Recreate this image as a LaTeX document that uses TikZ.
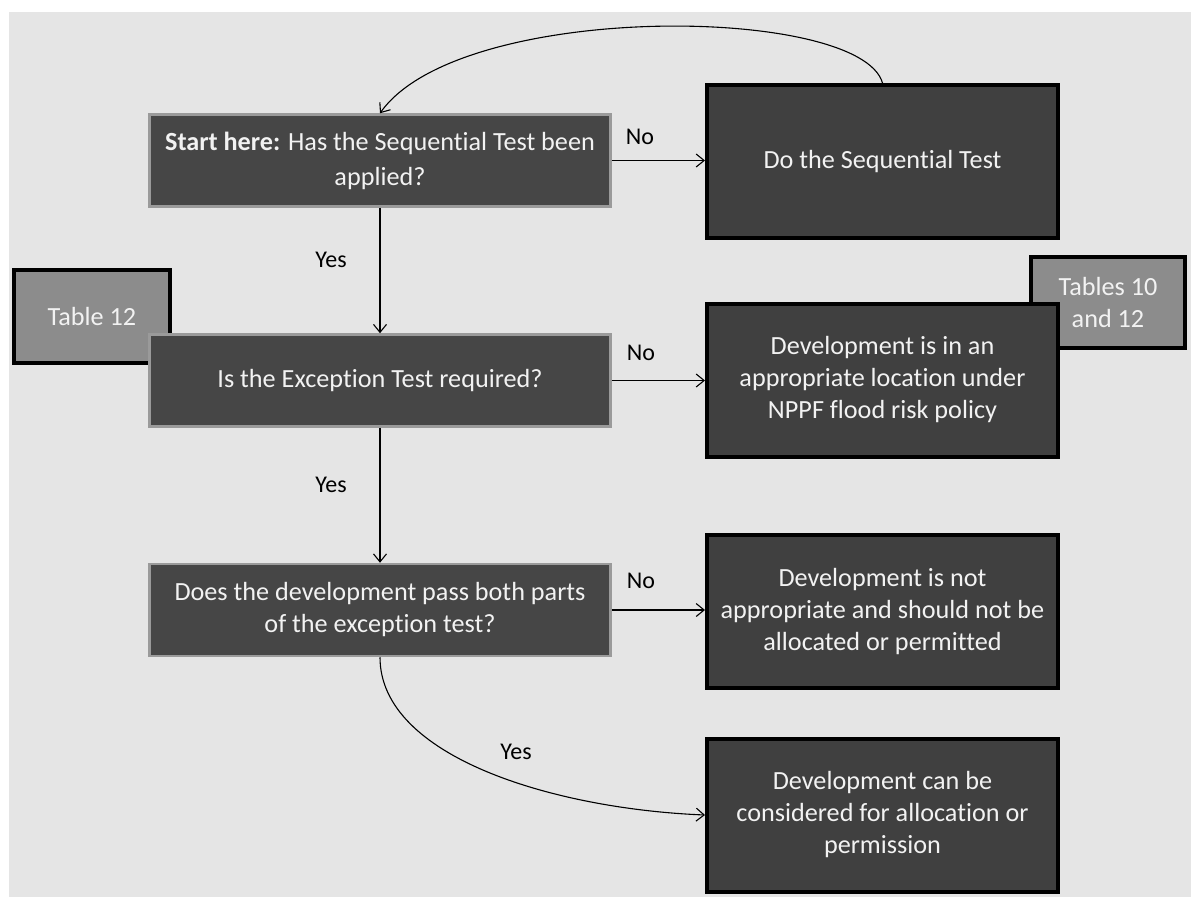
\documentclass[tikz,border=0pt]{standalone}
\usepackage{fontspec}
\setmainfont{Carlito}[Ligatures=NoCommon]
\usetikzlibrary{arrows.meta}
\definecolor{bgc}{HTML}{E5E5E5}
\definecolor{boxfill}{HTML}{464646}
\definecolor{outfill}{HTML}{404040}
\definecolor{boxedge}{HTML}{9A9A9A}
\definecolor{tabfill}{HTML}{8C8C8C}
\definecolor{boxtext}{HTML}{F2F2F2}
\tikzset{
  basebox/.style={rectangle, align=center, text=boxtext, inner sep=0pt,
    font=\fontsize{26.2}{32}\selectfont},
  decision/.style={basebox, fill=boxfill, draw=boxedge, line width=2.5pt,
    minimum width=461pt, minimum height=92pt},
  outcome/.style={basebox, fill=outfill, draw=black, line width=4pt,
    minimum width=351pt, minimum height=153pt},
  tablebox/.style={basebox, fill=tabfill, draw=black, line width=4pt},
  lbl/.style={font=\fontsize{24}{28}\selectfont, text=black, inner sep=0pt},
  conn/.style={draw=black, line width=1.1pt, -{Straight Barb[length=8pt,width=13pt]}}
}
\begin{document}
\begin{tikzpicture}[x=1pt,y=-1pt]
\useasboundingbox (0,0) rectangle (1191,897);
\fill[bgc] (9,12) rectangle (1191,897);

% table tags (drawn first, under the boxes)
\node[tablebox, minimum width=156pt, minimum height=93pt] (t12) at (92,316.5) {Table 12};
\node[tablebox, minimum width=154pt, minimum height=91pt] (t1012) at (1108,302.5) {Tables 10\\and 12};

% decision boxes
\node[decision, font=\fontsize{26.2}{35}\selectfont] (q1) at (380,160.5) {\textbf{Start here:} Has the Sequential Test been\\applied?};
\node[decision] (q2) at (380,380.5) {Is the Exception Test required?};
\node[decision] (q3) at (380,610) {Does the development pass both parts\\of the exception test?};

% outcome boxes
\node[outcome] (seq) at (882.5,161.5) {Do the Sequential Test};
\node[outcome] (r1) at (882.5,380) {Development is in an\\appropriate location under\\NPPF flood risk policy};
\node[outcome] (r2) at (882.5,611.5) {Development is not\\appropriate and should not be\\allocated or permitted};
\node[outcome] (r3) at (882.5,815) {Development can be\\considered for allocation or\\permission};

% connectors
\draw[conn] (q1.east) -- (q1.east -| seq.west);
\draw[conn] (q2.east) -- (q2.east -| r1.west);
\draw[conn] (q3.east) -- (q3.east -| r2.west);
\draw[conn] (q1.south) -- (q2.north);
\draw[conn] (q2.south) -- (q3.north);
\draw[conn] (seq.north) .. controls +(-22,-78) and +(80,-113) .. (q1.north);
\draw[conn] (q3.south) .. controls +(0,100) and +(-150,-6) .. (r3.west);

% labels
\node[lbl] (no1) at (640,137) {No};
\node[lbl] (no2) at (641,353) {No};
\node[lbl] (no3) at (641,581) {No};
\node[lbl] (yes1) at (331,260) {Yes};
\node[lbl] (yes2) at (331,485) {Yes};
\node[lbl] (yes3) at (516,752) {Yes};
\end{tikzpicture}
\end{document}
